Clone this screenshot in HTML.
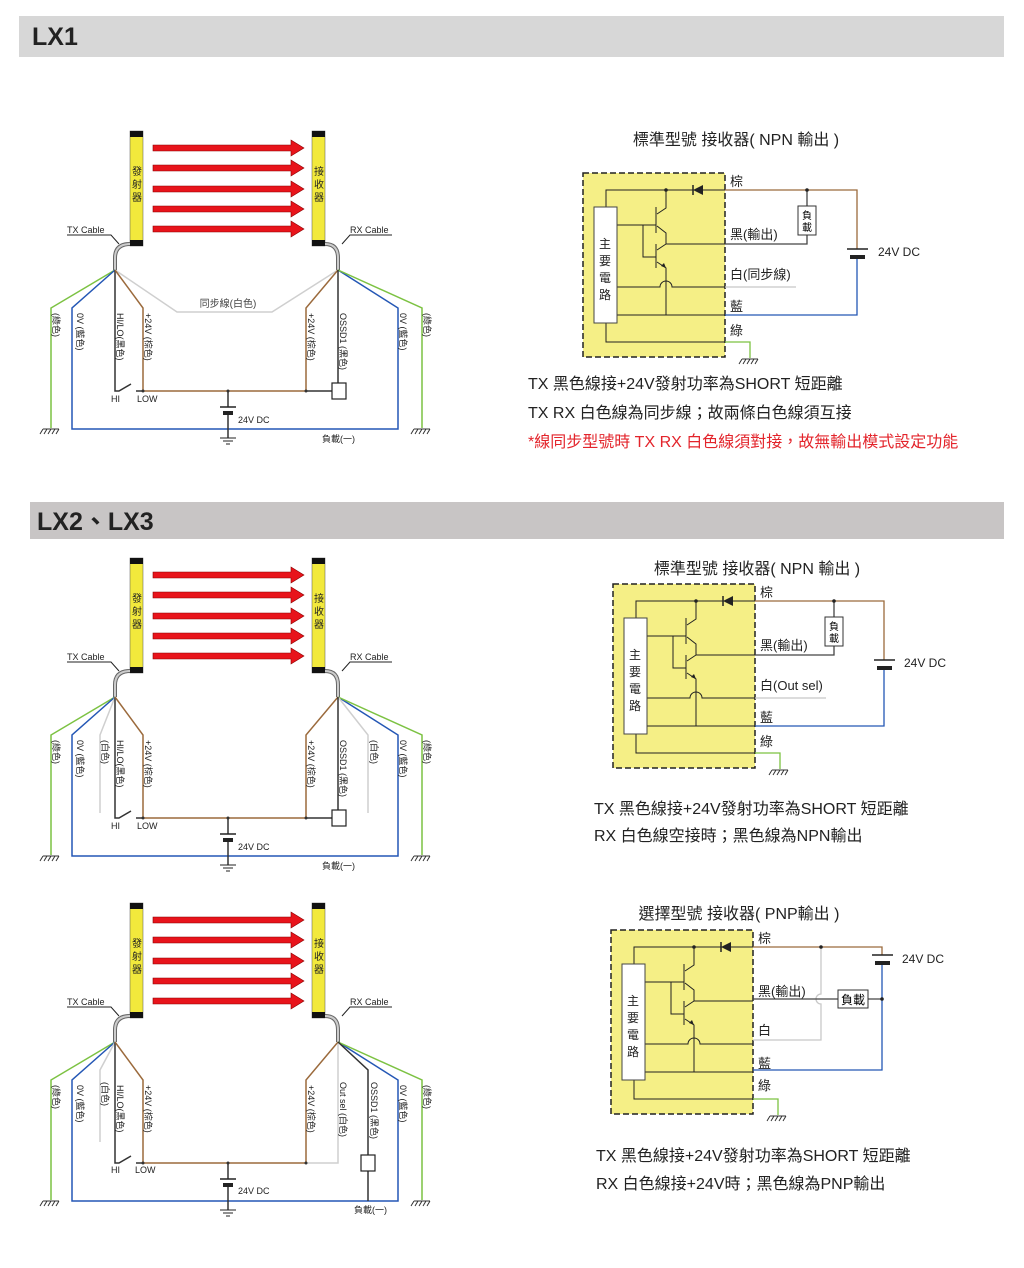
<!DOCTYPE html>
<html><head><meta charset="utf-8"><style>
html,body{margin:0;padding:0;background:#fff;}
svg{display:block;}
text{font-family:"Liberation Sans","Noto Sans CJK TC",sans-serif;}
</style></head><body>
<svg width="1024" height="1268" viewBox="0 0 1024 1268" xmlns="http://www.w3.org/2000/svg">
<defs>
<g id="bars">
<rect x="130" y="131" width="13" height="115" fill="#f2e93c" stroke="#555" stroke-width="0.5"/>
<rect x="130" y="131" width="13" height="6" fill="#111"/><rect x="130" y="240" width="13" height="6" fill="#111"/>
<rect x="312" y="131" width="13" height="115" fill="#f2e93c" stroke="#555" stroke-width="0.5"/>
<rect x="312" y="131" width="13" height="6" fill="#111"/><rect x="312" y="240" width="13" height="6" fill="#111"/>
<g fill="#e8141b" stroke="#8a0000" stroke-width="0.6">
<polygon points="153,145 291,145 291,140 304,148 291,156 291,151 153,151"/>
<polygon points="153,165 291,165 291,160 304,168 291,176 291,171 153,171"/>
<polygon points="153,186 291,186 291,181 304,189 291,197 291,192 153,192"/>
<polygon points="153,206 291,206 291,201 304,209 291,217 291,212 153,212"/>
<polygon points="153,226 291,226 291,221 304,229 291,237 291,232 153,232"/>
</g>
<path d="M130,244 Q115,244 115,258 L115,270" fill="none" stroke="#666" stroke-width="4"/>
<path d="M130,244 Q115,244 115,258 L115,270" fill="none" stroke="#ccc" stroke-width="2"/>
<path d="M325,244 Q338,244 338,258 L338,270" fill="none" stroke="#666" stroke-width="4"/>
<path d="M325,244 Q338,244 338,258 L338,270" fill="none" stroke="#ccc" stroke-width="2"/>
<path d="M67,235 H111 L119,244" fill="none" stroke="#222" stroke-width="1"/>
<path d="M392,235 H350 L342,244" fill="none" stroke="#222" stroke-width="1"/>
</g>
<g id="gnd" stroke="#333" stroke-width="1" fill="none">
<path d="M-8,0 H8 M-8,0 l-3,5 M-4,0 l-3,5 M0,0 l-3,5 M4,0 l-3,5 M8,0 l-3,5"/>
</g>
<g id="earth" stroke="#222" stroke-width="1" fill="none">
<path d="M-8,0 H8 M-5,3 H5 M-2,6 H2"/>
</g>
<g id="circ">
<rect x="583" y="173" width="142" height="184" fill="#f5ef86" stroke="#222" stroke-width="1.5" stroke-dasharray="6,3"/>
<g stroke="#222" stroke-width="1" fill="none">
<path d="M606,207 V190 H725"/>
<path d="M666,190 V208 L657,214 M656,207 V233 M657,226 L666,233 V244 H725"/>
<path d="M656,244 V268 M666,244 L657,250 M657,262 L666,268 V315"/>
<path d="M617,225 H656 M643,225 V257 H656"/>
<path d="M617,287 H660 a6,6 0 0 1 12,0 H725"/>
<path d="M617,315 H725 M606,323 V342 H725"/>
</g>
<polygon points="693,190 703,185 703,195" fill="#222"/>
<path d="M693,185 V195" stroke="#222" stroke-width="1.5"/>
<circle cx="666" cy="190" r="1.8" fill="#222"/>
<polygon points="666,268 661,266 664,263" fill="#222"/>
<rect x="594" y="207" width="23" height="116" fill="#fff" stroke="#444" stroke-width="1"/>
<text x="605" y="248" font-size="12" text-anchor="middle" fill="#222">主</text>
<text x="605" y="265" font-size="12" text-anchor="middle" fill="#222">要</text>
<text x="605" y="282" font-size="12" text-anchor="middle" fill="#222">電</text>
<text x="605" y="299" font-size="12" text-anchor="middle" fill="#222">路</text>
</g>
</defs>

<rect x="19" y="16" width="985" height="41" fill="#d7d7d7"/>
<text x="32" y="45" font-size="25" font-weight="bold" fill="#222">LX1</text>
<rect x="30" y="502" width="974" height="37" fill="#c8c5c5"/>
<text x="37" y="530" font-size="25" font-weight="bold" fill="#222">LX2、LX3</text>

<!-- LX1 left -->
<use href="#bars"/>
<g font-size="9" fill="#222">
<text x="67" y="233">TX Cable</text><text x="350" y="233">RX Cable</text>
<text x="132" y="175" font-size="10">發</text><text x="132" y="188" font-size="10">射</text><text x="132" y="201" font-size="10">器</text>
<text x="314" y="175" font-size="10">接</text><text x="314" y="188" font-size="10">收</text><text x="314" y="201" font-size="10">器</text>
</g>
<g fill="none" stroke-width="1.5">
<path d="M115,270 L51,308 V428" stroke="#7cc242"/>
<path d="M115,270 L72,308 V429 H398 V308 L338,270" stroke="#2457b5"/>
<path d="M338,270 L422,308 V428" stroke="#7cc242"/>
<path d="M115,270 L177,312 H272 L338,270" stroke="#cfcfcf"/>
<path d="M115,270 V391 H119 L131,384" stroke="#333"/>
<path d="M115,270 L143,308 V391 H306 V308 L338,270" stroke="#9b6a3c"/>
<path d="M136,391 H143" stroke="#333"/>
<path d="M306,391 H332 M338,270 V383" stroke="#333"/>
<path d="M228,391 V407 M228,413 V438" stroke="#333"/>
</g>
<rect x="332" y="383" width="14" height="16" fill="#fff" stroke="#222" stroke-width="1.2"/>
<path d="M220,407 H236" stroke="#222" stroke-width="1.5"/><rect x="223" y="411" width="10" height="4" fill="#222"/>
<circle cx="228" cy="391" r="1.5" fill="#333"/><circle cx="306" cy="391" r="1.5" fill="#333"/><circle cx="143" cy="391" r="1.5" fill="#333"/>
<use href="#earth" x="228" y="438"/>
<use href="#gnd" x="51" y="429"/><use href="#gnd" x="422" y="429"/>
<text x="228" y="307" font-size="10" text-anchor="middle" fill="#444">同步線(白色)</text>
<g font-size="9" fill="#222">
<text x="111" y="402">HI</text><text x="137" y="402">LOW</text>
<text x="238" y="423">24V DC</text><text x="322" y="442">負載(一)</text>
<text transform="translate(53,313) rotate(90)">(綠色)</text>
<text transform="translate(77,313) rotate(90)">0V (藍色)</text>
<text transform="translate(117,313) rotate(90)">HI/LO(黑色)</text>
<text transform="translate(145,313) rotate(90)">+24V (棕色)</text>
<text transform="translate(308,313) rotate(90)">+24V (棕色)</text>
<text transform="translate(340,313) rotate(90)">OSSD1 (黑色)</text>
<text transform="translate(400,313) rotate(90)">0V (藍色)</text>
<text transform="translate(424,313) rotate(90)">(綠色)</text>
</g>

<!-- LX1 right -->
<text x="736" y="145" font-size="16" text-anchor="middle" fill="#222">標準型號 接收器( NPN 輸出 )</text>
<use href="#circ"/>
<g fill="none" stroke-width="1.3">
<path d="M725,190 H857 V249" stroke="#9b6a3c"/>
<path d="M857,257 V315 H725" stroke="#2457b5"/>
<path d="M807,190 V206 M807,235 V244 H725" stroke="#444"/>
<path d="M725,287 H796" stroke="#c8c8c8"/>
<path d="M725,342 H750 V358" stroke="#7cc242"/>
</g>
<circle cx="807" cy="190" r="1.8" fill="#222"/>
<rect x="798" y="206" width="18" height="29" fill="#fff" stroke="#333" stroke-width="1"/>
<text x="807" y="219" font-size="10" text-anchor="middle">負</text><text x="807" y="231" font-size="10" text-anchor="middle">載</text>
<path d="M847,249 H868" stroke="#222" stroke-width="1.5"/><rect x="850" y="255" width="15" height="4" fill="#222"/>
<use href="#gnd" x="750" y="359"/>
<g font-size="13" fill="#222">
<text x="730" y="186">棕</text><text x="730" y="239">黑(輸出)</text><text x="730" y="279">白(同步線)</text>
<text x="730" y="311">藍</text><text x="730" y="335">綠</text>
<text x="878" y="256" font-size="12">24V DC</text>
</g>
<g font-size="16" fill="#222">
<text x="528" y="389">TX 黑色線接+24V發射功率為SHORT 短距離</text>
<text x="528" y="418">TX RX 白色線為同步線；故兩條白色線須互接</text>
<text x="528" y="447" fill="#e3242b">*線同步型號時 TX RX 白色線須對接，故無輸出模式設定功能</text>
</g>

<!-- LX2 left -->
<g transform="translate(0,427)">
<use href="#bars"/>
<g font-size="9" fill="#222">
<text x="67" y="233">TX Cable</text><text x="350" y="233">RX Cable</text>
<text x="132" y="175" font-size="10">發</text><text x="132" y="188" font-size="10">射</text><text x="132" y="201" font-size="10">器</text>
<text x="314" y="175" font-size="10">接</text><text x="314" y="188" font-size="10">收</text><text x="314" y="201" font-size="10">器</text>
</g>
<g fill="none" stroke-width="1.5">
<path d="M115,270 L51,308 V428" stroke="#7cc242"/>
<path d="M115,270 L72,308 V429 H398 V308 L338,270" stroke="#2457b5"/>
<path d="M338,270 L422,308 V428" stroke="#7cc242"/>
<path d="M115,270 L100,308 V386" stroke="#cfcfcf"/>
<path d="M338,270 L368,308 V386" stroke="#cfcfcf"/>
<path d="M115,270 V391 H119 L131,384" stroke="#333"/>
<path d="M115,270 L143,308 V391 H306 V308 L338,270" stroke="#9b6a3c"/>
<path d="M136,391 H143" stroke="#333"/>
<path d="M306,391 H332 M338,270 V383" stroke="#333"/>
<path d="M228,391 V407 M228,413 V438" stroke="#333"/>
</g>
<rect x="332" y="383" width="14" height="16" fill="#fff" stroke="#222" stroke-width="1.2"/>
<path d="M220,407 H236" stroke="#222" stroke-width="1.5"/><rect x="223" y="411" width="10" height="4" fill="#222"/>
<circle cx="228" cy="391" r="1.5" fill="#333"/><circle cx="306" cy="391" r="1.5" fill="#333"/><circle cx="143" cy="391" r="1.5" fill="#333"/>
<use href="#earth" x="228" y="438"/>
<use href="#gnd" x="51" y="429"/><use href="#gnd" x="422" y="429"/>
<g font-size="9" fill="#222">
<text x="111" y="402">HI</text><text x="137" y="402">LOW</text>
<text x="238" y="423">24V DC</text><text x="322" y="442">負載(一)</text>
<text transform="translate(53,313) rotate(90)">(綠色)</text>
<text transform="translate(77,313) rotate(90)">0V (藍色)</text>
<text transform="translate(102,313) rotate(90)">(白色)</text>
<text transform="translate(117,313) rotate(90)">HI/LO(黑色)</text>
<text transform="translate(145,313) rotate(90)">+24V (棕色)</text>
<text transform="translate(308,313) rotate(90)">+24V (棕色)</text>
<text transform="translate(340,313) rotate(90)">OSSD1 (黑色)</text>
<text transform="translate(371,313) rotate(90)">(白色)</text>
<text transform="translate(400,313) rotate(90)">0V (藍色)</text>
<text transform="translate(424,313) rotate(90)">(綠色)</text>
</g>
</g>

<!-- LX2 right -->
<text x="757" y="574" font-size="16" text-anchor="middle" fill="#222">標準型號 接收器( NPN 輸出 )</text>
<g transform="translate(30,411)">
<use href="#circ"/>
<g fill="none" stroke-width="1.3">
<path d="M725,190 H854 V249" stroke="#9b6a3c"/>
<path d="M854,257 V315 H725" stroke="#2457b5"/>
<path d="M804,190 V206 M804,235 V244 H725" stroke="#444"/>
<path d="M725,287 H796" stroke="#c8c8c8"/>
<path d="M725,342 H750 V358" stroke="#7cc242"/>
</g>
<circle cx="804" cy="190" r="1.8" fill="#222"/>
<rect x="795" y="206" width="18" height="29" fill="#fff" stroke="#333" stroke-width="1"/>
<text x="804" y="219" font-size="10" text-anchor="middle">負</text><text x="804" y="231" font-size="10" text-anchor="middle">載</text>
<path d="M844,249 H865" stroke="#222" stroke-width="1.5"/><rect x="847" y="255" width="15" height="4" fill="#222"/>
<use href="#gnd" x="750" y="359"/>
<g font-size="13" fill="#222">
<text x="730" y="186">棕</text><text x="730" y="239">黑(輸出)</text><text x="730" y="279">白(Out sel)</text>
<text x="730" y="311">藍</text><text x="730" y="335">綠</text>
<text x="874" y="256" font-size="12">24V DC</text>
</g>
</g>
<g font-size="16" fill="#222">
<text x="594" y="814">TX 黑色線接+24V發射功率為SHORT 短距離</text>
<text x="594" y="841">RX 白色線空接時；黑色線為NPN輸出</text>
</g>

<!-- LX3 left -->
<g transform="translate(0,772)">
<use href="#bars"/>
<g font-size="9" fill="#222">
<text x="67" y="233">TX Cable</text><text x="350" y="233">RX Cable</text>
<text x="132" y="175" font-size="10">發</text><text x="132" y="188" font-size="10">射</text><text x="132" y="201" font-size="10">器</text>
<text x="314" y="175" font-size="10">接</text><text x="314" y="188" font-size="10">收</text><text x="314" y="201" font-size="10">器</text>
</g>
<g fill="none" stroke-width="1.5">
<path d="M115,270 L51,308 V428" stroke="#7cc242"/>
<path d="M115,270 L72,308 V429 H398 V308 L338,270" stroke="#2457b5"/>
<path d="M338,270 L422,308 V428" stroke="#7cc242"/>
<path d="M115,270 L100,298 V370" stroke="#cfcfcf"/>
<path d="M338,270 V391 H306" stroke="#cfcfcf"/>
<path d="M115,270 V391 H119 L131,384" stroke="#333"/>
<path d="M115,270 L143,308 V391 H306 V308 L338,270" stroke="#9b6a3c"/>
<path d="M136,391 H143" stroke="#333"/>
<path d="M338,270 L368,298 V429" stroke="#333"/>
<path d="M228,391 V407 M228,413 V438" stroke="#333"/>
</g>
<rect x="361" y="383" width="14" height="16" fill="#fff" stroke="#222" stroke-width="1.2"/>
<path d="M220,407 H236" stroke="#222" stroke-width="1.5"/><rect x="223" y="411" width="10" height="4" fill="#222"/>
<circle cx="228" cy="391" r="1.5" fill="#333"/><circle cx="306" cy="391" r="1.5" fill="#333"/><circle cx="143" cy="391" r="1.5" fill="#333"/>
<use href="#earth" x="228" y="438"/>
<use href="#gnd" x="51" y="429"/><use href="#gnd" x="422" y="429"/>
<g font-size="9" fill="#222">
<text x="111" y="401">HI</text><text x="135" y="401">LOW</text>
<text x="238" y="422">24V DC</text><text x="354" y="441">負載(一)</text>
<text transform="translate(53,313) rotate(90)">(綠色)</text>
<text transform="translate(77,313) rotate(90)">0V (藍色)</text>
<text transform="translate(102,310) rotate(90)">(白色)</text>
<text transform="translate(117,313) rotate(90)">HI/LO(黑色)</text>
<text transform="translate(145,313) rotate(90)">+24V (棕色)</text>
<text transform="translate(308,313) rotate(90)">+24V (棕色)</text>
<text transform="translate(340,310) rotate(90)">Out sel (白色)</text>
<text transform="translate(371,310) rotate(90)">OSSD1 (黑色)</text>
<text transform="translate(400,313) rotate(90)">0V (藍色)</text>
<text transform="translate(424,313) rotate(90)">(綠色)</text>
</g>
</g>

<!-- LX3 right -->
<text x="739" y="919" font-size="16" text-anchor="middle" fill="#222">選擇型號 接收器( PNP輸出 )</text>
<g transform="translate(28,757)">
<use href="#circ"/>
<g fill="none" stroke-width="1.3">
<path d="M725,190 H854 V198" stroke="#9b6a3c"/>
<path d="M854,206 V313 H725" stroke="#2457b5"/>
<path d="M793,190 V237 a5,5 0 0 0 0,10 V283 H725" stroke="#c8c8c8"/>
<path d="M725,242 H810 M840,242 H854" stroke="#444"/>
<path d="M725,342 H750 V358" stroke="#7cc242"/>
</g>
<circle cx="793" cy="190" r="1.8" fill="#222"/><circle cx="854" cy="242" r="1.8" fill="#222"/>
<rect x="810" y="233" width="30" height="18" fill="#fff" stroke="#333" stroke-width="1"/>
<text x="825" y="247" font-size="12" text-anchor="middle">負載</text>
<path d="M844,198 H865" stroke="#222" stroke-width="1.5"/><rect x="847" y="204" width="15" height="4" fill="#222"/>
<use href="#gnd" x="750" y="359"/>
<g font-size="13" fill="#222">
<text x="730" y="186">棕</text><text x="730" y="239">黑(輸出)</text><text x="730" y="278">白</text>
<text x="730" y="311">藍</text><text x="730" y="333">綠</text>
<text x="874" y="206" font-size="12">24V DC</text>
</g>
</g>
<g font-size="16" fill="#222">
<text x="596" y="1161">TX 黑色線接+24V發射功率為SHORT 短距離</text>
<text x="596" y="1189">RX 白色線接+24V時；黑色線為PNP輸出</text>
</g>
</svg>
</body></html>
